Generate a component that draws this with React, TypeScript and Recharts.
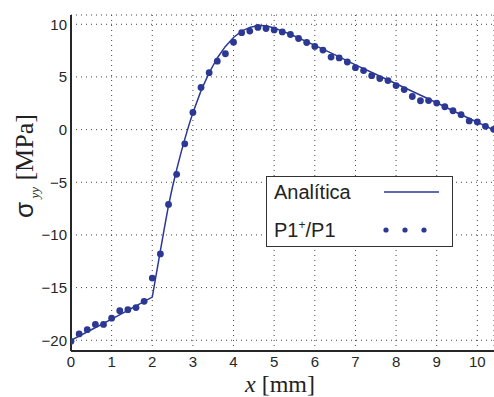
import { ComposedChart, Line, Scatter, XAxis, YAxis, CartesianGrid, Label } from "recharts"

const NAVY = "#2b3894"
const AXIS = "#262626"

// analytic solution, sigma_yy along x
const lineX = [0, 0.5, 1.0, 1.5, 2.0, 2.1, 2.2, 2.3, 2.4, 2.5, 2.6, 2.7, 2.8, 2.9, 3.0, 3.2, 3.4, 3.6, 3.8, 4.0, 4.2, 4.4, 4.6, 4.8, 5.0, 5.2, 5.4, 5.6, 5.8, 6.0, 6.5, 7.0, 7.5, 8.0, 8.5, 9.0, 9.5, 10.0, 10.41]
const lineY = [-20.0, -19.0, -18.0, -16.95, -15.9, -13.7, -11.5, -9.3, -7.2, -5.4, -3.8, -2.3, -0.9, 0.4, 1.6, 3.7, 5.4, 6.8, 7.9, 8.75, 9.35, 9.7, 9.88, 9.85, 9.65, 9.35, 9.05, 8.7, 8.35, 8.0, 7.1, 6.15, 5.25, 4.35, 3.45, 2.55, 1.6, 0.7, -0.05]

// P1+/P1 results
const pointX = [0, 0.2, 0.4, 0.6, 0.8, 1.0, 1.2, 1.4, 1.6, 1.8, 2.0, 2.2, 2.4, 2.6, 2.8, 3.0, 3.2, 3.4, 3.6, 3.8, 4.0, 4.2, 4.4, 4.6, 4.8, 5.0, 5.2, 5.4, 5.6, 5.8, 6.0, 6.2, 6.4, 6.6, 6.8, 7.0, 7.2, 7.4, 7.6, 7.8, 8.0, 8.2, 8.4, 8.6, 8.8, 9.0, 9.2, 9.4, 9.6, 9.8, 10.0, 10.2, 10.4]
const pointY = [-20.1, -19.4, -19.0, -18.5, -18.5, -17.9, -17.2, -17.1, -16.9, -16.3, -14.1, -11.8, -7.1, -4.25, -1.35, 1.63, 4.0, 5.4, 6.5, 7.2, 8.3, 9.2, 9.35, 9.7, 9.6, 9.46, 9.27, 9.03, 8.65, 8.27, 7.9, 7.55, 6.89, 6.8, 6.42, 5.88, 5.6, 5.12, 4.84, 4.65, 4.18, 3.8, 3.14, 2.74, 2.76, 2.52, 2.17, 1.79, 1.42, 0.82, 0.73, 0.31, 0.03]

const xTicks = [0, 1, 2, 3, 4, 5, 6, 7, 8, 9, 10]
const yTicks = [-20, -15, -10, -5, 0, 5, 10]

const lineData = lineX.map((x, i) => ({ x, y: lineY[i] }))
const pointData = pointX.map((x, i) => ({ x, y: pointY[i] }))

const fmt = (v: number) => (v < 0 ? `\u2212${Math.abs(v)}` : `${v}`)
const tickStyle = { fontSize: 15, fill: AXIS, fontFamily: "Liberation Sans, Arial, sans-serif" }

export default function App() {
  return (
    <div style={{ position: "absolute", left: 0, top: 0, width: 494, height: 397, background: "#fff", fontFamily: "Liberation Sans, Arial, sans-serif" }}>
      <ComposedChart width={494} height={397} margin={{ top: 15, right: 0, left: 0, bottom: 0 }}>
        <CartesianGrid strokeDasharray="1 4" stroke="#444" />
        <XAxis
          dataKey="x"
          type="number"
          domain={[0, 10.41]}
          ticks={xTicks}
          height={46}
          tickSize={0}
          tickMargin={5}
          tick={tickStyle}
          axisLine={{ stroke: AXIS, strokeWidth: 2 }}
          allowDataOverflow
        >
          <Label
            content={() => (
              <text x={280} y={392} textAnchor="middle" fontFamily="Liberation Serif, Times New Roman, serif" fontSize={24} fill="#222">
                <tspan fontStyle="italic">x</tspan>
                <tspan> [mm]</tspan>
              </text>
            )}
          />
        </XAxis>
        <XAxis
          xAxisId="top"
          orientation="top"
          dataKey="x"
          type="number"
          domain={[0, 10.41]}
          ticks={xTicks}
          height={0}
          tick={false}
          tickSize={0}
          axisLine={{ stroke: AXIS, strokeWidth: 2 }}
          allowDataOverflow
        />
        <YAxis
          type="number"
          domain={[-21.02, 10.88]}
          ticks={yTicks}
          width={71}
          tickSize={0}
          tickMargin={4}
          tick={tickStyle}
          tickFormatter={fmt}
          axisLine={{ stroke: AXIS, strokeWidth: 2 }}
          allowDataOverflow
        >
          <Label
            content={() => (
              <text transform="translate(33,166) rotate(-90)" textAnchor="middle" fill="#222" fontSize={26}>
                <tspan fontFamily="Liberation Sans, Arial, sans-serif">σ</tspan>
                <tspan fontFamily="Liberation Serif, Times New Roman, serif" fontStyle="italic" fontSize={13} dy={6}> yy</tspan>
                <tspan fontFamily="Liberation Serif, Times New Roman, serif" dy={-6}> [MPa]</tspan>
              </text>
            )}
          />
        </YAxis>
        <Line
          data={lineData}
          dataKey="y"
          type="linear"
          stroke={NAVY}
          strokeWidth={1.5}
          dot={false}
          activeDot={false}
          isAnimationActive={false}
        />
        <Scatter
          data={pointData}
          dataKey="y"
          fill={NAVY}
          shape={(p: any) => <circle cx={p.cx} cy={p.cy} r={3.4} fill={NAVY} />}
          isAnimationActive={false}
        />
      </ComposedChart>
      <div style={{ position: "absolute", left: 266, top: 176, width: 185, height: 69, border: "1px solid #333", background: "#fff" }}>
        <svg width={185} height={69} style={{ display: "block" }}>
          <text x={7} y={22} fontSize={20} fill="#222" fontFamily="Liberation Sans, Arial, sans-serif">Analítica</text>
          <line x1={117} x2={172} y1={15} y2={15} stroke={NAVY} strokeWidth={1.5} />
          <text x={7} y={60} fontSize={20} fill="#222" fontFamily="Liberation Sans, Arial, sans-serif">
            P1<tspan fontSize={12} dy={-8}>+</tspan><tspan dy={8}>/P1</tspan>
          </text>
          <circle cx={119} cy={53} r={2.6} fill={NAVY} />
          <circle cx={138} cy={53} r={2.6} fill={NAVY} />
          <circle cx={157} cy={53} r={2.6} fill={NAVY} />
        </svg>
      </div>
    </div>
  )
}
